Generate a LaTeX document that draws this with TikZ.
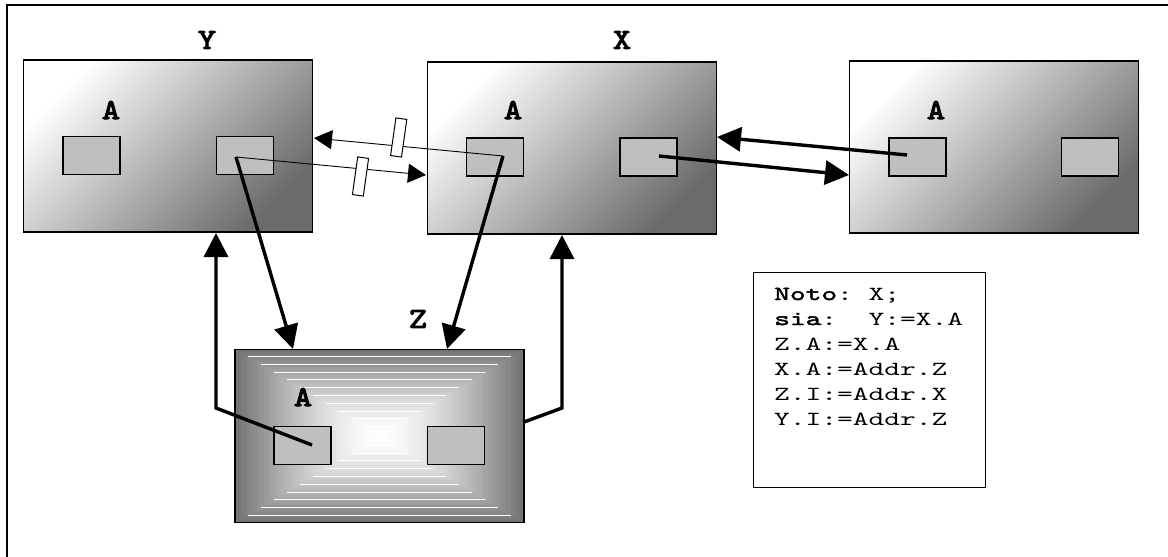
\documentclass[tikz,border=0pt]{standalone}
\usepackage{fontspec}
\usetikzlibrary{arrows.meta}
\newfontfamily\txtF[FakeStretch=1.5]{lmmono10-regular.otf}
\newfontfamily\txtB[FakeStretch=1.5, FakeBold=2.2]{lmmono10-regular.otf}
\newfontfamily\lblF[FakeStretch=1.2, FakeBold=3.5]{lmmono10-regular.otf}
\begin{document}
\begin{tikzpicture}[x=1pt,y=-1pt,
  obox/.style={draw=black, line width=1.6pt, minimum width=289pt, minimum height=172pt, inner sep=0pt,
    shading=axis, top color=white, bottom color=black!58, shading angle=45},
  ibox/.style={draw=black, line width=1.4pt, fill=black!25, minimum width=57pt, minimum height=38pt, inner sep=0pt},
  lbl/.style={font=\lblF\fontsize{29}{29}\selectfont, inner sep=0pt},
  tarr/.style={line width=0.9pt, -{Triangle[length=18pt,width=19pt]}},
  barr/.style={line width=3.4pt, -{Triangle[length=24pt,width=24pt]}},
  card/.style={draw=black, line width=1pt, fill=white, minimum width=11pt, minimum height=38pt, inner sep=0pt, rotate=-8},
  txt/.style={font=\txtF\fontsize{20}{20}\selectfont, anchor=base west, inner sep=0pt},
]
\useasboundingbox (0,0) rectangle (1168,557);
\fill[white] (0,0) rectangle (1168,557);
% frame
\draw[line width=2.2pt] (7,557) -- (7,5) -- (1168,5);

% outer boxes
\node[obox] (yb) at (168,146) {};
\node[obox] (xb) at (572,148) {};
\node[obox] (rb) at (994,147) {};

% Z box shading
\foreach \i in {40,39,...,1} {
  \pgfmathsetmacro\t{\i/40}
  \pgfmathsetmacro\c{55*\t^1.5}
  \fill[black!\c] ({379.5-144.5*\t},{436-86.5*\t}) rectangle ({379.5+144.5*\t},{436+86.5*\t});
}
\foreach \j in {0,...,9} {
  \pgfmathsetmacro\dy{79.5-7.8*\j}
  \pgfmathsetmacro\hw{1.65*\dy}
  \draw[white, line width=0.9pt] ({379.5-\hw},{436-\dy}) -- ({379.5+\hw},{436-\dy});
  \draw[white, line width=0.9pt] ({379.5-\hw},{436+\dy}) -- ({379.5+\hw},{436+\dy});
}
\node[draw=black, line width=1.6pt, minimum width=289pt, minimum height=173pt, inner sep=0pt] (zb) at (379.5,436) {};

% inner boxes
\node[ibox] (yl) at (91.5,155.5) {};
\node[ibox] (yr) at (245,155.5) {};
\node[ibox] (xl) at (495,157) {};
\node[ibox] (xr) at (648.5,157) {};
\node[ibox] (rl) at (917.5,157) {};
\node[ibox] (rr) at (1090,157) {};
\node[ibox] (zl) at (302.5,445.5) {};
\node[ibox] (zr) at (456,445.5) {};

% labels
\node[lbl] (ly) at (207,40) {Y};
\node[lbl] (lx) at (622,40) {X};
\node[lbl] (lz) at (418,319) {Z};
\node[lbl] (ay) at (111,110) {A};
\node[lbl] (ax) at (513,110) {A};
\node[lbl] (ar) at (936,110) {A};
\node[lbl] (az) at (303,397) {A};

% connector points
\coordinate (ys) at (236,157);
\coordinate (xs) at (503,156);
\coordinate (xrs) at (659,156);
\coordinate (rs) at (907,155);
\coordinate (zs) at (312,445);
\coordinate (tY) at (314,138);
\coordinate (tX) at (426,175);
\coordinate (tX2) at (717,137);
\coordinate (tR) at (849,175);
\coordinate (tZ1) at (293,349);
\coordinate (tZ2) at (447,349);
\coordinate (bY) at (216,408);
\coordinate (tYb) at (216,233);
\coordinate (zre) at (524,422);
\coordinate (bX) at (562,408);
\coordinate (tXb) at (562,235);

% thin arrows
\draw[tarr] (xs) -- (tY);
\draw[tarr] (ys) -- (tX);
\node[card] (c1) at (398.7,137.5) {};
\node[card] (c2) at (360.5,176.5) {};

% thick arrows
\draw[barr] (rs) -- (tX2);
\draw[barr] (xrs) -- (tR);
\draw[barr] (ys) -- (tZ1);
\draw[barr] (xs) -- (tZ2);
\draw[barr, line join=miter] (zs) -- (bY) -- (tYb);
\draw[barr, line join=miter] (zre) -- (bX) -- (tXb);

% text box
\node[draw=black, line width=1.3pt, fill=white, minimum width=232pt, minimum height=215pt, inner sep=0pt] (tb) at (869.5,380) {};
\node[txt] (t1) at (774,300) {{\txtB Noto}:~X;};
\node[txt] (t2) at (774,325) {{\txtB sia}:~~Y:=X.A};
\node[txt] (t3) at (774,350) {Z.A:=X.A};
\node[txt] (t4) at (774,375) {X.A:=Addr.Z};
\node[txt] (t5) at (774,400) {Z.I:=Addr.X};
\node[txt] (t6) at (774,425) {Y.I:=Addr.Z};
\end{tikzpicture}
\end{document}
